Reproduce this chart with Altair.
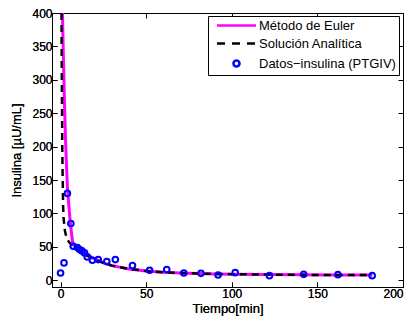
import altair as alt
import pandas as pd

# ---- data ----
euler_t = [1.1, 1.7, 2.3, 2.9, 3.5, 4, 4.5, 5, 5.5, 6, 6.5, 7, 7.5, 8, 9, 10, 12, 15, 20, 25, 30, 40, 50, 60, 70, 80, 90, 100, 120, 140, 160, 182]
euler_y = [400, 330, 265, 210, 170, 140, 122, 107, 92, 80, 68, 58, 54, 52, 50, 48.5, 45, 39.5, 32, 26, 22, 17, 14, 12, 11, 10.2, 9.6, 9.2, 8.6, 8.2, 8, 7.8]

anal_t = [0.55, 0.8, 1.0, 1.2, 1.5, 1.8, 2.5, 3.5, 5, 6.5, 8, 10, 12, 15, 20, 25, 30, 40, 50, 60, 70, 80, 90, 100, 120, 140, 160, 182]
anal_y = [400, 280, 200, 160, 110, 92, 75, 63, 57, 53, 49, 45.5, 42, 37.5, 31, 26, 22, 17, 14, 12, 11, 10.2, 9.6, 9.2, 8.6, 8.2, 8, 7.8]

data_t = [0, 2, 4, 6, 7.4, 9.8, 11.1, 12.5, 14, 15.6, 18.6, 22, 27, 32, 42, 52, 62, 72, 82, 92, 102, 122, 142, 162, 182]
data_y = [11, 26, 130, 85, 51, 49, 46, 44, 41, 35, 30, 31, 28, 31, 22, 15, 16, 11, 10.5, 8, 11.4, 7, 9, 8.5, 7]

series_names = ["Método de Euler", "Solución Analítica", "Datos−insulina (PTGIV)"]
series_colors = ["#FF00FF", "#000000", "#0000FF"]
x_ticks = [0, 50, 100, 150, 200]
y_ticks = [0, 50, 100, 150, 200, 250, 300, 350, 400]

df_e = pd.DataFrame({"t": euler_t, "y": euler_y, "series": series_names[0]})
df_a = pd.DataFrame({"t": anal_t, "y": anal_y, "series": series_names[1]})
df_d = pd.DataFrame({"t": data_t, "y": data_y, "series": series_names[2]})

xscale = alt.Scale(domain=[-5, 200], nice=False, zero=False)
yscale = alt.Scale(domain=[-10, 400], nice=False, zero=False)
cscale = alt.Scale(domain=series_names, range=series_colors)

inward = {"expr": "-5"}

x_bottom = alt.Axis(orient="bottom", values=x_ticks, title="Tiempo[min]", tickSize=inward,
                    labelPadding=6, titlePadding=3, grid=False)
y_left = alt.Axis(orient="left", values=y_ticks, title="Insulina [µU/mL]", tickSize=inward,
                  labelPadding=5, titlePadding=8, grid=False)
x_top = alt.Axis(orient="top", values=x_ticks, title=None, labels=False, tickSize=inward, grid=False)
y_right = alt.Axis(orient="right", values=y_ticks, title=None, labels=False, tickSize=inward, grid=False)

dash_name = series_names[1]
circ_name = series_names[2]
is_c = f"datum.value === '{circ_name}'"
is_d = f"datum.value === '{dash_name}'"
# legend symbols as paths in a 10px symbol box (unit = 5px): 39px line, 6px circle
line_path = "M-3.9,0H3.9"
circle_path = "M0.6,0A0.6,0.6,0,1,1,-0.6,0A0.6,0.6,0,1,1,0.6,0Z"

legend = alt.Legend(
    title=None, orient="none", legendX=156, legendY=3,
    fillColor="white", strokeColor="black", padding=3,
    symbolType={"expr": f"{is_c} ? '{circle_path}' : '{line_path}'"},
    symbolSize=100,
    symbolDash={"expr": f"{is_d} ? [8, 7] : [1, 0]"},
    symbolStrokeWidth=2.5,
    symbolFillColor="transparent",
    symbolOpacity=1,
    symbolOffset=19,
    labelFontSize=13, labelOffset=16, rowPadding=4,
)

euler = alt.Chart(df_e).mark_line(strokeWidth=3, clip=True).encode(
    x=alt.X("t:Q", scale=xscale, axis=x_bottom),
    y=alt.Y("y:Q", scale=yscale, axis=y_left),
    color=alt.Color("series:N", scale=cscale, legend=legend),
)

anal = alt.Chart(df_a).mark_line(strokeWidth=2.5, strokeDash=[7, 5], clip=True).encode(
    x=alt.X("t:Q", scale=xscale, axis=x_bottom),
    y=alt.Y("y:Q", scale=yscale, axis=y_left),
    color=alt.Color("series:N", scale=cscale, legend=legend),
)

pts = alt.Chart(df_d).mark_point(filled=False, size=32, strokeWidth=2, opacity=1, clip=True).encode(
    x=alt.X("t:Q", scale=xscale, axis=x_top),
    y=alt.Y("y:Q", scale=yscale, axis=y_right),
    color=alt.Color("series:N", scale=cscale, legend=legend),
)

chart = alt.layer(euler, anal, pts).properties(
    width=351, height=274,
    autosize=alt.AutoSizeParams(type="none"),
    padding={"left": 44, "top": 5, "right": 3, "bottom": 34},
).configure(
    font="Liberation Sans",
).configure_view(
    stroke="black", strokeWidth=1,
).configure_axis(
    domainColor="black", tickColor="black", labelColor="black", titleColor="black",
    labelFontSize=12, titleFontSize=13, titleFontWeight="normal",
    domainWidth=1, tickWidth=1,
).configure_legend(
    labelColor="black",
)

chart.save("out.html", embed_options={"renderer": "svg", "actions": False})
